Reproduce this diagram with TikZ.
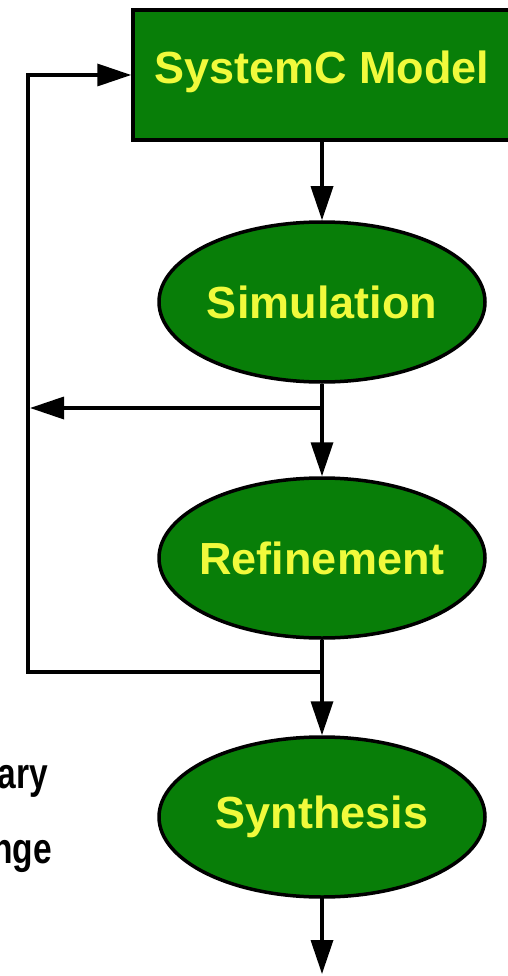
\documentclass[tikz,border=0pt]{standalone}
\usepackage{fontspec}
\usepackage{graphicx}
\setmainfont{Liberation Sans}
\newfontfamily\labfont{Liberation Sans}
\usetikzlibrary{shapes.geometric,arrows.meta}
\definecolor{boxgreen}{RGB}{8,126,8}
\definecolor{labyellow}{RGB}{240,250,60}
\tikzset{
  conn/.style={line width=3.5pt, draw=black},
  arr/.style={conn, -{Triangle[length=34pt,width=22pt]}},
  stepnode/.style={draw=black, line width=3.5pt, fill=boxgreen, text=labyellow,
    font=\labfont\bfseries\fontsize{45}{45}\selectfont, inner sep=0pt},
  stepell/.style={stepnode, ellipse, inner xsep=-30pt, minimum width=326pt, minimum height=160pt},
  sidetext/.style={font=\bfseries\fontsize{43}{43}\selectfont, text=black, inner sep=0pt, anchor=base east}
}
\begin{document}
\begin{tikzpicture}[x=1pt,y=-1pt]
\useasboundingbox (0,0) rectangle (508,976);
\clip (0,0) rectangle (508,976);
\fill[white] (0,0) rectangle (508,976);
\node[stepnode, minimum width=381pt, minimum height=130pt] (model) at (323.5,75) {};
\node[text=labyellow, font=\labfont\bfseries\fontsize{45}{45}\selectfont, inner sep=0pt] (modeltext) at (322,72) {SystemC Model};
\node[stepell] (sim) at (322,302) {Simulation};
\node[stepell] (ref) at (322,558) {Refinement};
\node[stepell] (syn) at (322,817) {Synthesis};
\coordinate (j1) at (322,408);
\coordinate (l1) at (30,408);
\coordinate (j2) at (322,672);
\coordinate (c1) at (28,672);
\coordinate (c2) at (28,75);
\coordinate (out) at (322,974);
\draw[arr] (model.south -| sim.north) -- (sim.north);
\draw[conn] (sim.south) -- (j1);
\draw[arr] (j1) -- (ref.north);
\draw[arr] (j1) -- (l1);
\draw[conn] (ref.south) -- (j2);
\draw[arr] (j2) -- (syn.north);
\draw[arr] (j2) -- (c1) -- (c2) -- (model.west);
\draw[arr] (syn.south) -- (out);
\node[sidetext] (t1) at (48,788) {\scalebox{0.78}[1]{ary}};
\node[sidetext] (t2) at (52,863) {\scalebox{0.78}[1]{nge}};
\end{tikzpicture}
\end{document}
